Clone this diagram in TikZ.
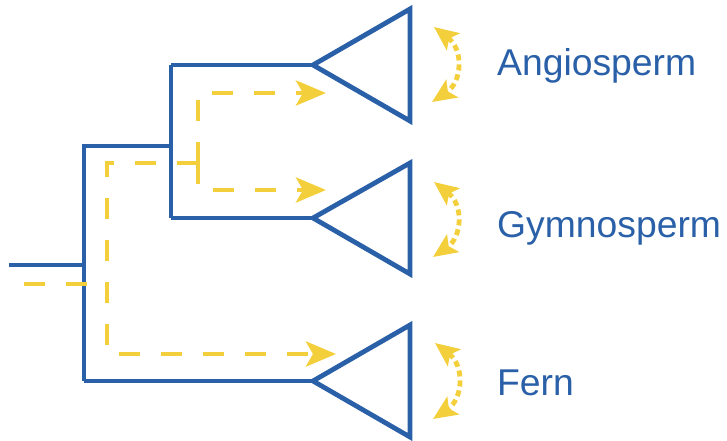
\documentclass[tikz,border=0pt]{standalone}
\usepackage{fontspec}
\setmainfont{Liberation Sans}
\usetikzlibrary{arrows.meta}
\definecolor{treeblue}{HTML}{2A60A8}
\definecolor{flowyellow}{HTML}{F3CF3B}
\begin{document}
\begin{tikzpicture}[x=1pt,y=-1pt,
  branch/.style={draw=treeblue,line width=4.8pt,line join=miter},
  flow/.style={draw=flowyellow,line width=4.8pt,dash pattern=on 21pt off 21pt,
    -{Stealth[length=30pt,width=25pt,inset=7pt,flowyellow]}},
  flowplain/.style={draw=flowyellow,line width=4.8pt,dash pattern=on 21pt off 21pt},
  swap/.style={draw=flowyellow,line width=4.8pt,dash pattern=on 6pt off 4pt,
    {Stealth[length=24pt,width=21pt,inset=5pt,flowyellow]}-{Stealth[length=24pt,width=21pt,inset=5pt,flowyellow]}},
  lbl/.style={text=treeblue,font=\fontsize{37.3}{40}\selectfont,anchor=base west,inner sep=0pt}]
\useasboundingbox (0,0) rectangle (727,441);
% coordinates
\coordinate (root) at (9,265);
\coordinate (r1) at (84,265);
\coordinate (r1t) at (84,146);
\coordinate (r1b) at (84,381);
\coordinate (n2) at (171,146);
\coordinate (n2t) at (171,65);
\coordinate (n2b) at (171,218);
\coordinate (aA) at (313,65);
\coordinate (aG) at (313,218);
\coordinate (aF) at (313,381);
% tree
\draw[branch] (root) -- (r1);
\draw[branch] (r1b) -- (r1t) -- (n2);
\draw[branch] (n2t) -- (n2b);
\draw[branch] (n2t) -- (aA);
\draw[branch] (n2b) -- (aG);
\draw[branch] (r1b) -- (aF);
% triangles
\draw[branch] (aA) -- (410,9) -- (410,121) -- cycle;
\draw[branch] (aG) -- (410,163) -- (410,274) -- cycle;
\draw[branch] (aF) -- (410,325) -- (410,437) -- cycle;
% yellow flow
\coordinate (y0) at (24,284);
\coordinate (y1) at (88,284);
\coordinate (yv) at (107,163);
\coordinate (yb) at (107,354);
\coordinate (yh) at (198,163);
\coordinate (yt) at (198,93);
\coordinate (ybt) at (198,190);
\coordinate (tA) at (326,93);
\coordinate (tG) at (326,190);
\coordinate (tF) at (336,354);
\draw[flowplain] (y0) -- (y1);
\draw[flow] (yh) -- (yv) -- (yb) -- (tF);
\draw[flow] (yh) -- (yt) -- (tA);
\draw[flow] (yh) -- (ybt) -- (tG);
% swap arrows
\draw[swap] (434,27) .. controls (464,50) and (462,82) .. (432,102);
\draw[swap] (434,182) .. controls (464,205) and (462,237) .. (433,257);
\draw[swap] (435,343) .. controls (465,366) and (463,399) .. (433,419);
% labels
\node[lbl] (la) at (497,76) {Angiosperm};
\node[lbl] (lg) at (497,237) {Gymnosperm};
\node[lbl] (lf) at (497,395) {Fern};
\end{tikzpicture}
\end{document}
